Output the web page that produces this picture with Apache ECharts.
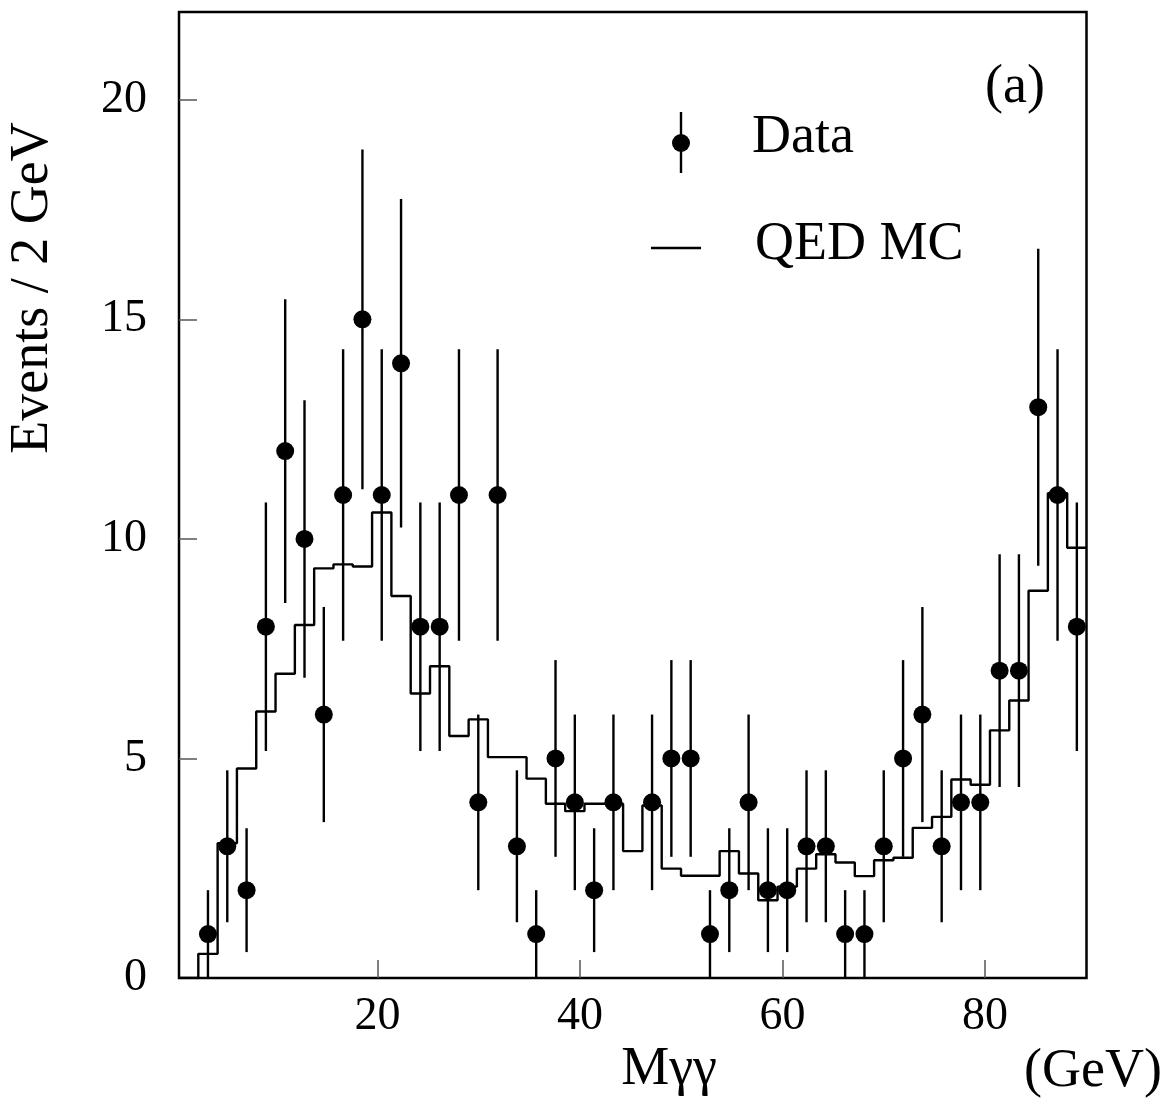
<!DOCTYPE html>
<html>
<head>
<meta charset="utf-8">
<script src="https://cdn.jsdelivr.net/npm/echarts@6/dist/echarts.min.js"></script>
<style>
  html, body { margin: 0; padding: 0; background: #fff; }
  #chart { width: 1172px; height: 1106px; }
</style>
</head>
<body>
<div id="chart"></div>
<script>
// Mass bins (bin centres, GeV), 2 GeV wide
const binCenters = [1, 3, 5, 7, 9, 11, 13, 15, 17, 19, 21, 23, 25, 27, 29, 31, 33, 35, 37, 39,
  41, 43, 45, 47, 49, 51, 53, 55, 57, 59, 61, 63, 65, 67, 69, 71, 73, 75, 77, 79,
  81, 83, 85, 87, 89, 91, 93];
const binWidth = 2;

// Data: events per bin
const dataCounts = [0, 1, 3, 2, 8, 12, 10, 6, 11, 15, 11, 14, 8, 8, 11, 4, 11, 3, 1, 5,
  4, 2, 4, 0, 4, 5, 5, 1, 2, 4, 2, 2, 3, 3, 1, 1, 3, 5, 6, 3,
  4, 4, 7, 7, 13, 11, 8];
// Data: statistical errors
const dataErrors = [0, 1, 1.73, 1.41, 2.83, 3.46, 3.16, 2.45, 3.32, 3.87, 3.32, 3.74, 2.83, 2.83, 3.32, 2, 3.32, 1.73, 1, 2.24,
  2, 1.41, 2, 0, 2, 2.24, 2.24, 1, 1.41, 2, 1.41, 1.41, 1.73, 1.73, 1, 1, 1.73, 2.24, 2.45, 1.73,
  2, 2, 2.65, 2.65, 3.61, 3.32, 2.83];

// QED Monte Carlo expectation per bin
const mcCounts = [0, 0.55, 3.07, 4.77, 6.07, 6.93, 8.04, 9.33, 9.42, 9.37, 10.6, 8.7, 6.48, 7.1, 5.51, 5.89, 5.03, 5.03, 4.54, 3.97,
  3.8, 3.97, 3.97, 2.89, 3.93, 2.49, 2.33, 2.33, 2.89, 2.38, 1.77, 2.08, 2.49, 2.82, 2.63, 2.32, 2.68, 2.74, 3.42, 3.67,
  4.52, 4.40, 5.64, 6.32, 8.82, 11.04, 9.80];

// Axis tick labels
const xTickValues = [20, 40, 60, 80];
const yTickValues = [0, 5, 10, 15, 20];

const FONT = '"Liberation Serif", "Times New Roman", serif';

// Build library inputs
const pointData = binCenters.map((c, i) => [c, dataCounts[i], dataErrors[i]]);
const histData = binCenters.map((c, i) => [c - binWidth / 2, mcCounts[i]]);
histData.push([binCenters[binCenters.length - 1] + binWidth / 2, mcCounts[mcCounts.length - 1]]);

const chart = echarts.init(document.getElementById('chart'), null, { renderer: 'canvas' });

const tickStyle = { inside: true, length: 18, lineStyle: { color: '#555', width: 1.5 } };

chart.setOption({
  animation: false,
  backgroundColor: '#fff',
  grid: {
    left: 179, right: 85.5, top: 12, bottom: 128,
    show: true, borderColor: '#000', borderWidth: 2.5, backgroundColor: 'transparent'
  },
  xAxis: [
    {
      type: 'value', min: 0.4, max: 90.03, position: 'bottom',
      axisLine: { show: false },
      splitLine: { show: false },
      axisTick: Object.assign({ customValues: xTickValues }, tickStyle),
      axisLabel: { customValues: xTickValues, margin: 16, fontSize: 46, fontFamily: FONT, color: '#000' }
    },
    { type: 'value', min: 0, max: 94, show: false }
  ],
  yAxis: [{
    type: 'value', min: 0, max: 22,
    axisLine: { show: false },
    splitLine: { show: false },
    axisTick: Object.assign({ customValues: yTickValues }, tickStyle),
    axisLabel: { customValues: yTickValues, margin: 32, fontSize: 46, fontFamily: FONT, color: '#000' }
  }],
  series: [
    {
      name: 'QED MC', type: 'line', xAxisIndex: 1, yAxisIndex: 0,
      step: 'end', data: histData, symbol: 'none',
      lineStyle: { color: '#000', width: 2.4 }, z: 2
    },
    {
      name: 'Data', type: 'custom', xAxisIndex: 1, yAxisIndex: 0,
      data: pointData, encode: { x: 0, y: 1 }, z: 3,
      renderItem: function (params, api) {
        const x = api.value(0), y = api.value(1), e = api.value(2);
        if (!(y > 0)) return null;
        const c = api.coord([x, y]);
        const lo = api.coord([x, Math.max(0, y - e)]);
        const hi = api.coord([x, y + e]);
        return {
          type: 'group',
          children: [
            { type: 'line', shape: { x1: c[0], y1: lo[1], x2: c[0], y2: hi[1] }, style: { stroke: '#000', lineWidth: 2.4 } },
            { type: 'circle', shape: { cx: c[0], cy: c[1], r: 9 }, style: { fill: '#000' } }
          ]
        };
      }
    }
  ],
  graphic: [
    { type: 'text', x: 33, y: 288, rotation: Math.PI / 2,
      style: { text: 'Events / 2 GeV', font: '54px ' + FONT, fill: '#000', align: 'center', verticalAlign: 'middle' } },
    { type: 'text', x: 669, y: 1070,
      style: { text: 'Mγγ', font: '54px ' + FONT, fill: '#000', align: 'center', verticalAlign: 'middle' } },
    { type: 'text', x: 1093, y: 1072,
      style: { text: '(GeV)', font: '54px ' + FONT, fill: '#000', align: 'center', verticalAlign: 'middle' } },
    { type: 'text', x: 1015, y: 88,
      style: { text: '(a)', font: '54px ' + FONT, fill: '#000', align: 'center', verticalAlign: 'middle' } },
    // legend: Data
    { type: 'line', shape: { x1: 681, y1: 112, x2: 681, y2: 173 }, style: { stroke: '#000', lineWidth: 2.4 } },
    { type: 'circle', shape: { cx: 681, cy: 143, r: 9 }, style: { fill: '#000' } },
    { type: 'text', x: 752, y: 138,
      style: { text: 'Data', font: '54px ' + FONT, fill: '#000', align: 'left', verticalAlign: 'middle' } },
    // legend: QED MC
    { type: 'line', shape: { x1: 651, y1: 248, x2: 701, y2: 248 }, style: { stroke: '#000', lineWidth: 2.4 } },
    { type: 'text', x: 755, y: 245,
      style: { text: 'QED MC', font: '54px ' + FONT, fill: '#000', align: 'left', verticalAlign: 'middle' } }
  ]
});
</script>
</body>
</html>
